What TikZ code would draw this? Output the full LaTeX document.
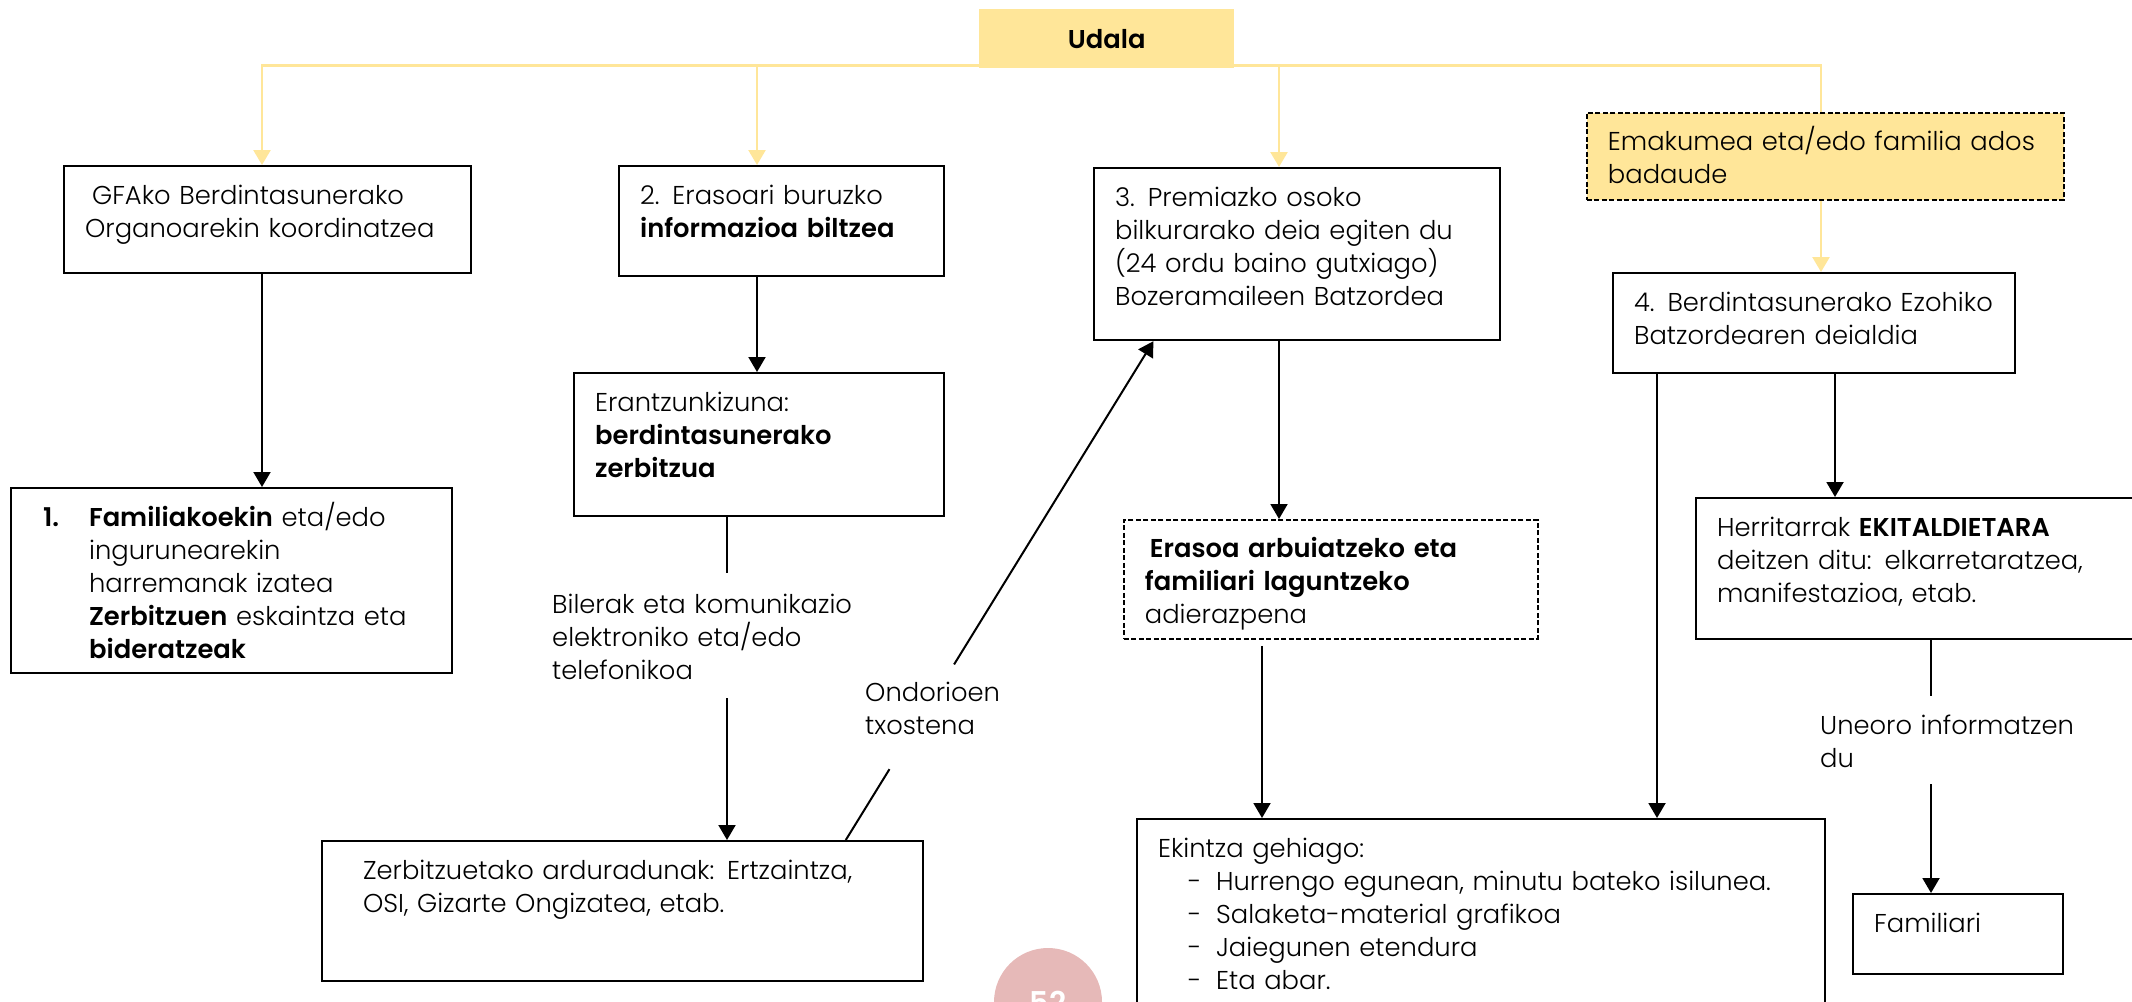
\documentclass[tikz,border=0pt]{standalone}
\usepackage{fontspec}
\setmainfont{Poppins}[UprightFont=* Light, BoldFont=* SemiBold]
\usetikzlibrary{arrows.meta,calc}

\definecolor{udalayellow}{HTML}{FFE699}
\definecolor{pagepink}{HTML}{E6B9B8}

\tikzset{
  box/.style={draw, line width=2.2pt, anchor=north west, align=left,
    inner xsep=21pt, inner ysep=18pt, text height=20pt},
  dashbox/.style={box, line width=1.8pt, dash pattern=on 5pt off 2.5pt},
  lbl/.style={anchor=north west, align=left, inner sep=0pt},
  plain/.style={line width=2pt},
  arr/.style={line width=2pt, -{Triangle[width=17pt,length=15pt]}},
  yline/.style={draw=udalayellow, line width=2.5pt},
  yarr/.style={yline, -{Triangle[width=17pt,length=15pt]}},
}

\begin{document}
\begin{tikzpicture}[x=1pt,y=-1pt,font=\fontsize{25.8}{33}\selectfont]
\useasboundingbox (0,0) rectangle (2132,1001);

% x positions of the vertical connectors
\coordinate (cA) at (262,0);
\coordinate (cB) at (757,0);
\coordinate (cC) at (1279,0);
\coordinate (cD) at (1821,0);
\coordinate (cG) at (727,0);
\coordinate (cH) at (1262,0);
\coordinate (cE) at (1657,0);
\coordinate (cF) at (1835,0);
\coordinate (cI) at (1931,0);

% top
\node[fill=udalayellow, anchor=north west, minimum width=255pt, minimum height=59pt,
  font=\fontsize{25.8}{33}\selectfont\bfseries] (udala) at (979,9) {Udala};

% first row
\node[box, text width=365pt, text depth=51pt] (gfa) at (63,165)
  {\hspace*{7pt}GFAko Berdintasunerako\\Organoarekin koordinatzea};
\node[box, text width=283pt, text depth=54pt] (erasoari) at (618,165)
  {2. Erasoari buruzko\\\textbf{informazioa biltzea}};
\node[box, text width=364pt, text depth=116pt] (premiazko) at (1093,167)
  {3. Premiazko osoko\\bilkurarako deia egiten du\\(24 ordu baino gutxiago)\\Bozeramaileen Batzordea};
\node[dashbox, fill=udalayellow, text width=435pt, text depth=31pt] (ados) at (1586,112)
  {Emakumea eta/edo familia ados\\badaude};
\node[box, text width=360pt, text depth=44pt] (berdin) at (1612,272)
  {4. Berdintasunerako Ezohiko\\Batzordearen deialdia};

% second row
\node[box, inner xsep=32pt, text width=377pt, text depth=129pt] (familia) at (10,487)
  {\makebox[46pt][l]{\textbf{1.}}\parbox[t]{330pt}{\textbf{Familiakoekin} eta/edo\\ingurunearekin\\harremanak izatea\\\textbf{Zerbitzuen} eskaintza eta\\\textbf{bideratzeak}}};
\node[box, text width=328pt, text depth=87pt] (erantzun) at (573,372)
  {Erantzunkizuna:\\\textbf{berdintasunerako}\\\textbf{zerbitzua}};
\node[dashbox, text width=372pt, text depth=63pt] (adierazpen) at (1123,519)
  {\hspace*{5pt}\textbf{Erasoa arbuiatzeko eta}\\\textbf{familiari laguntzeko}\\adierazpena};
\node[box, text width=403pt, text depth=85pt] (herritar) at (1695,497)
  {Herritarrak \textbf{EKITALDIETARA}\\deitzen ditu: elkarretaratzea,\\manifestazioa, etab.};

% bottom row
\node[box, inner xsep=41pt, text width=519pt, text depth=84pt] (arduradun) at (321,840)
  {Zerbitzuetako arduradunak: Ertzaintza,\\OSI, Gizarte Ongizatea, etab.};
\node[box, text width=646pt, text depth=141pt] (ekintza) at (1136,818)
  {Ekintza gehiago:\\
   \hspace*{30pt}\makebox[28pt][l]{-}Hurrengo egunean, minutu bateko isilunea.\\
   \hspace*{30pt}\makebox[28pt][l]{-}Salaketa-material grafikoa\\
   \hspace*{30pt}\makebox[28pt][l]{-}Jaiegunen etendura\\
   \hspace*{30pt}\makebox[28pt][l]{-}Eta abar.};
\node[box, text width=168pt, text depth=24pt] (familiari) at (1852,893) {Familiari};

% texts on the connectors
\node[lbl, text width=310pt, text height=40pt, text depth=85pt] (bilerak) at (552,573)
  {Bilerak eta komunikazio\\elektroniko eta/edo\\telefonikoa};
\node[lbl, text width=160pt, text height=20pt, text depth=33pt] (ondorioen) at (865,681)
  {Ondorioen\\txostena};
\node[lbl, text width=270pt, text height=38pt, text depth=50pt] (uneoro) at (1820,696)
  {Uneoro informatzen\\du};

% yellow connectors from Udala
\draw[yarr] ([yshift=3pt]udala.south west) -| (gfa.north -| cA);
\draw[yarr] ([yshift=3pt]udala.south west) -| (erasoari.north -| cB);
\draw[yarr] ([yshift=3pt]udala.south east) -| (premiazko.north -| cC);
\draw[yline] ([yshift=3pt]udala.south east) -| (ados.north -| cD);
\draw[yarr] (ados.south -| cD) -- (berdin.north -| cD);

% black connectors
\draw[arr] (gfa.south -| cA) -- (familia.north -| cA);
\draw[arr] (erasoari.south -| cB) -- (erantzun.north -| cB);
\draw[plain] (erantzun.south -| cG) -- (bilerak.north -| cG);
\draw[arr] (bilerak.south -| cG) -- (arduradun.north -| cG);
\coordinate (oJ) at ($(arduradun.north west)!0.87!(arduradun.north east)$);
\coordinate (oC) at ($(premiazko.south west)!0.148!(premiazko.south east)$);
\draw[plain] (oJ) -- ($(oJ)!0.142!(oC)$);
\draw[arr] ($(oJ)!0.352!(oC)$) -- (oC);
\draw[arr] (premiazko.south -| cC) -- (adierazpen.north -| cC);
\draw[arr] ([yshift=-6pt]adierazpen.south -| cH) -- (ekintza.north -| cH);
\draw[arr] (berdin.south -| cE) -- (ekintza.north -| cE);
\draw[arr] (berdin.south -| cF) -- (herritar.north -| cF);
\draw[plain] (herritar.south -| cI) -- (uneoro.north -| cI);
\draw[arr] (uneoro.south -| cI) -- (familiari.north -| cI);

% page number
\node[circle, fill=pagepink, minimum size=108pt, inner sep=0pt, text=white,
  font=\fontsize{30}{36}\selectfont\bfseries] (pagenum) at (1048,1002) {52};

\end{tikzpicture}
\end{document}
